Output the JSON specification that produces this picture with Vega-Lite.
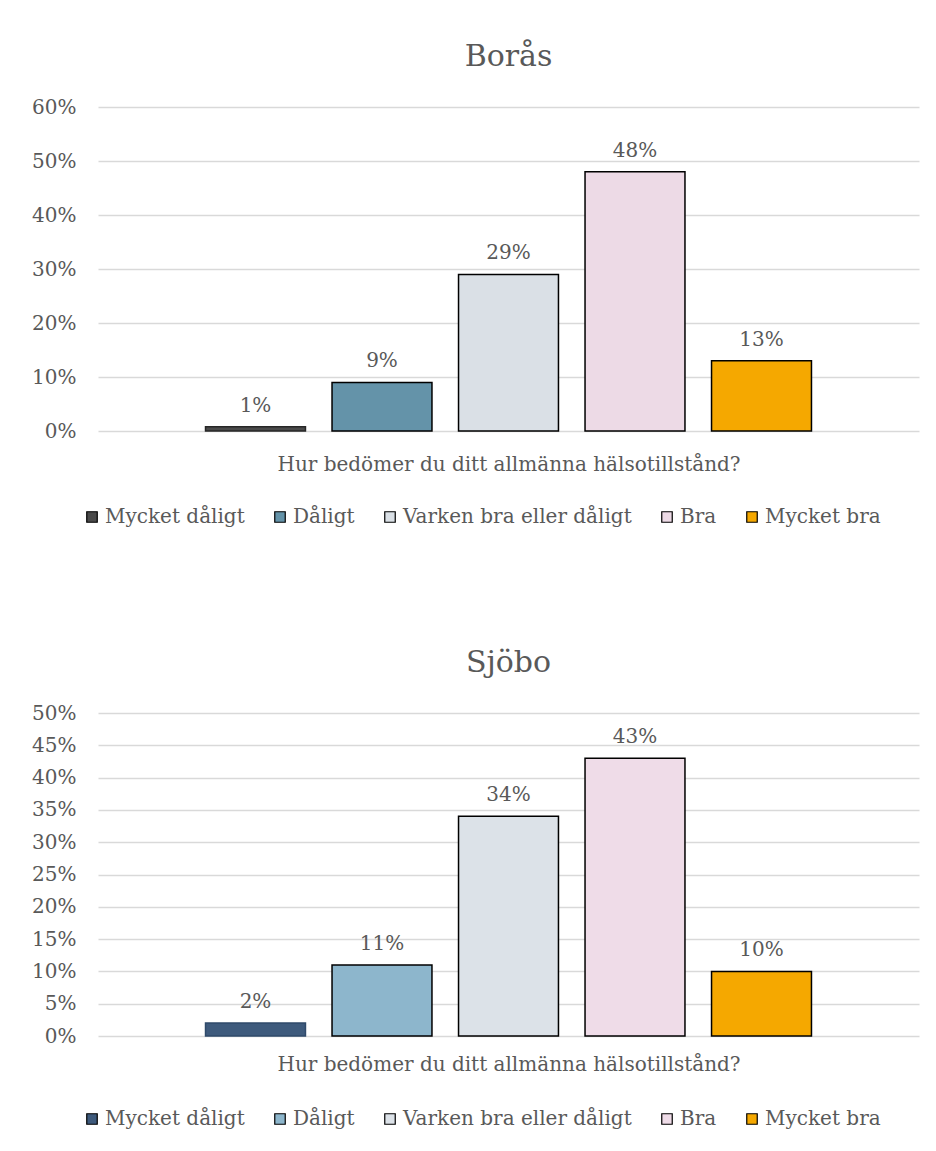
{
  "$schema": "https://vega.github.io/schema/vega-lite/v6.json",
  "background": "white",
  "padding": {"left": 31, "top": 42, "right": 5, "bottom": 5},
  "spacing": 121,
  "datasets": {
    "boras": [
      {"kategori": "Mycket dåligt", "andel": 0.008},
      {"kategori": "Dåligt", "andel": 0.09},
      {"kategori": "Varken bra eller dåligt", "andel": 0.29},
      {"kategori": "Bra", "andel": 0.48},
      {"kategori": "Mycket bra", "andel": 0.13}
    ],
    "sjobo": [
      {"kategori": "Mycket dåligt", "andel": 0.02},
      {"kategori": "Dåligt", "andel": 0.11},
      {"kategori": "Varken bra eller dåligt", "andel": 0.34},
      {"kategori": "Bra", "andel": 0.43},
      {"kategori": "Mycket bra", "andel": 0.10}
    ]
  },
  "config": {
    "font": "DejaVu Serif",
    "view": {"stroke": null},
    "axis": {
      "labelFont": "DejaVu Serif", "labelFontSize": 20, "labelColor": "#595959",
      "titleFont": "DejaVu Serif", "titleFontSize": 20, "titleColor": "#595959", "titleFontWeight": "normal",
      "gridColor": "#D9D9D9", "gridWidth": 1.3, "domain": false, "ticks": false
    },
    "legend": {
      "direction": "horizontal", "title": null,
      "symbolType": "square", "symbolSize": 110, "symbolStrokeColor": "#000000", "symbolStrokeWidth": 1.2,
      "labelFont": "DejaVu Serif", "labelFontSize": 20, "labelColor": "#595959", "labelLimit": 400,
      "columnPadding": 25, "labelOffset": 3
    },
    "title": {"font": "DejaVu Serif", "fontSize": 30, "fontWeight": "normal", "color": "#595959", "offset": 25}
  },
  "resolve": {"scale": {"color": "independent", "y": "independent"}, "legend": {"color": "independent"}},
  "vconcat": [
    {
      "title": "Borås",
      "width": 821,
      "height": 324,
      "data": {"name": "boras"},
      "encoding": {
        "x": {
          "field": "kategori", "type": "nominal",
          "sort": ["Mycket dåligt", "Dåligt", "Varken bra eller dåligt", "Bra", "Mycket bra"],
          "scale": {"paddingInner": 0.21, "paddingOuter": 0.85},
          "axis": {"labels": false, "grid": false, "title": "Hur bedömer du ditt allmänna hälsotillstånd?", "titlePadding": 23}
        },
        "y": {
          "field": "andel", "type": "quantitative",
          "scale": {"domain": [0, 0.6]},
          "axis": {"values": [0, 0.1, 0.2, 0.3, 0.4, 0.5, 0.6], "format": ".0%", "title": null, "labelPadding": 22}
        }
      },
      "layer": [
        {
          "mark": {"type": "bar", "strokeWidth": 1.5},
          "encoding": {
            "color": {
              "field": "kategori", "type": "nominal",
              "scale": {
                "domain": ["Mycket dåligt", "Dåligt", "Varken bra eller dåligt", "Bra", "Mycket bra"],
                "range": ["#4A4A4A", "#6493A9", "#DAE0E6", "#EDDAE6", "#F5A800"]
              },
              "legend": {"orient": "none", "legendX": -16, "legendY": 400}
            },
            "stroke": {"condition": {"test": "datum.kategori === 'Mycket dåligt'", "value": "#262626"}, "value": "#000000"}
          }
        },
        {
          "mark": {"type": "text", "baseline": "alphabetic", "dy": -15, "fontSize": 20, "color": "#595959"},
          "encoding": {"text": {"field": "andel", "type": "quantitative", "format": ".0%"}}
        }
      ]
    },
    {
      "title": "Sjöbo",
      "width": 821,
      "height": 323,
      "data": {"name": "sjobo"},
      "encoding": {
        "x": {
          "field": "kategori", "type": "nominal",
          "sort": ["Mycket dåligt", "Dåligt", "Varken bra eller dåligt", "Bra", "Mycket bra"],
          "scale": {"paddingInner": 0.21, "paddingOuter": 0.85},
          "axis": {"labels": false, "grid": false, "title": "Hur bedömer du ditt allmänna hälsotillstånd?", "titlePadding": 18}
        },
        "y": {
          "field": "andel", "type": "quantitative",
          "scale": {"domain": [0, 0.5]},
          "axis": {"values": [0, 0.05, 0.1, 0.15, 0.2, 0.25, 0.3, 0.35, 0.4, 0.45, 0.5], "format": ".0%", "title": null, "labelPadding": 22}
        }
      },
      "layer": [
        {
          "mark": {"type": "bar", "strokeWidth": 1.5},
          "encoding": {
            "color": {
              "field": "kategori", "type": "nominal",
              "scale": {
                "domain": ["Mycket dåligt", "Dåligt", "Varken bra eller dåligt", "Bra", "Mycket bra"],
                "range": ["#3E5A7C", "#8DB6CC", "#DCE2E8", "#EFDCE8", "#F5A800"]
              },
              "legend": {"orient": "none", "legendX": -16, "legendY": 396}
            },
            "stroke": {"condition": {"test": "datum.kategori === 'Mycket dåligt'", "value": "#2F4A6A"}, "value": "#000000"}
          }
        },
        {
          "mark": {"type": "text", "baseline": "alphabetic", "dy": -15, "fontSize": 20, "color": "#595959"},
          "encoding": {"text": {"field": "andel", "type": "quantitative", "format": ".0%"}}
        }
      ]
    }
  ]
}
